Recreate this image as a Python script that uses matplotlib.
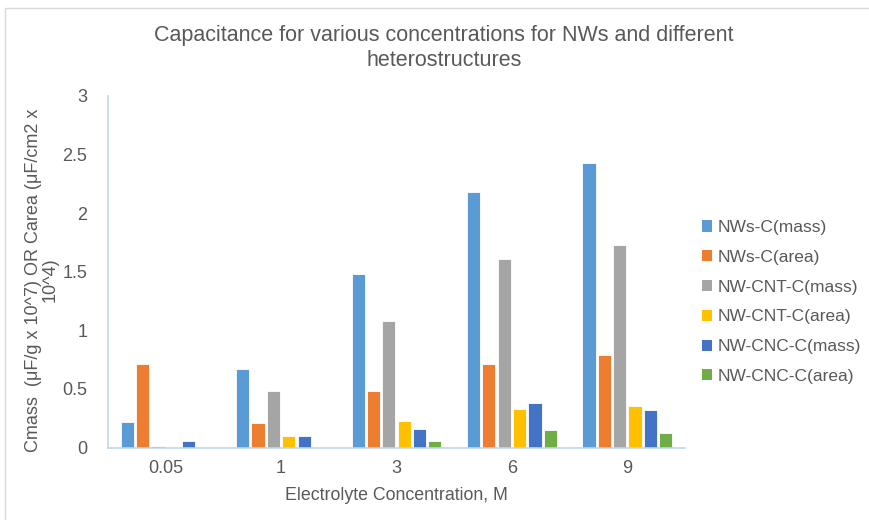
import numpy as np
import matplotlib.pyplot as plt
from matplotlib.patches import Rectangle, Patch

# capacitance values per electrolyte concentration
concentrations = ['0.05', '1', '3', '6', '9']
nws_mass = [0.215, 0.667, 1.48, 2.18, 2.43]
nws_area = [0.71, 0.21, 0.48, 0.71, 0.79]
cnt_mass = [0.01, 0.48, 1.08, 1.61, 1.73]
cnt_area = [0.0, 0.098, 0.226, 0.326, 0.354]
cnc_mass = [0.053, 0.098, 0.155, 0.38, 0.32]
cnc_area = [0.0, 0.0, 0.058, 0.15, 0.12]

series_names = ['NWs-C(mass)', 'NWs-C(area)', 'NW-CNT-C(mass)',
                'NW-CNT-C(area)', 'NW-CNC-C(mass)', 'NW-CNC-C(area)']
series = [nws_mass, nws_area, cnt_mass, cnt_area, cnc_mass, cnc_area]
colors = ['#5B9BD5', '#ED7D31', '#A5A5A5', '#FFC000', '#4472C4', '#70AD47']

plt.rcParams['font.family'] = ['Liberation Sans', 'DejaVu Sans']
txt = '#595959'

fig = plt.figure(figsize=(8.7, 5.2), dpi=100)
fig.patches.append(Rectangle((5/870, -0.01), 2, 1 - 8/520 + 0.01,
                             transform=fig.transFigure, fill=False,
                             edgecolor='#D9D9D9', lw=1))

ax = fig.add_axes([108/870, 1 - 447.5/520, 577/870, 351.5/520])

x = np.arange(len(concentrations))
pitch = 0.133
for i, (vals, c, name) in enumerate(zip(series, colors, series_names)):
    ax.bar(x + (i - 2.5) * pitch, vals, width=pitch * 0.86, color=c,
           edgecolor='white', linewidth=0.6, label=name)

ax.set_xlim(-0.5, len(concentrations) - 0.5)
ax.set_ylim(0, 3)
ax.set_yticks([0, 0.5, 1, 1.5, 2, 2.5, 3])
ax.set_yticklabels(['0', '0.5', '1', '1.5', '2', '2.5', '3'])
ax.set_xticks(x)
ax.set_xticklabels(concentrations)
ax.tick_params(length=0, labelsize=13, colors=txt, pad=9)
ax.tick_params(axis='y', pad=15)
for s in ['top', 'right']:
    ax.spines[s].set_visible(False)
for s in ['left', 'bottom']:
    ax.spines[s].set_color('#BDD7EE')
    ax.spines[s].set_linewidth(1.2)

ax.set_xlabel('Electrolyte Concentration, M', fontsize=12.8, color=txt, labelpad=7)
fig.text(42/870, 1 - 280/520, 'Cmass  (\u03bcF/g x 10^7) OR Carea (\u03bcF/cm2 x\n10^4)',
         rotation=90, ha='center', va='center', fontsize=13, color=txt,
         linespacing=1.0)

fig.text(444/870, 1 - 48/520,
         'Capacitance for various concentrations for NWs and different\nheterostructures',
         ha='center', va='center', fontsize=15.5, color=txt, linespacing=1.2)

handles = [Patch(facecolor=c, edgecolor='none') for c in colors]
fig.legend(handles, series_names, loc='center left',
           bbox_to_anchor=(686/870, 1 - 302/520), frameon=False,
           fontsize=12.5, labelcolor=txt, handlelength=0.6, handleheight=0.6,
           handletextpad=0.3, labelspacing=0.85)

fig.savefig('out.png', dpi=100)
